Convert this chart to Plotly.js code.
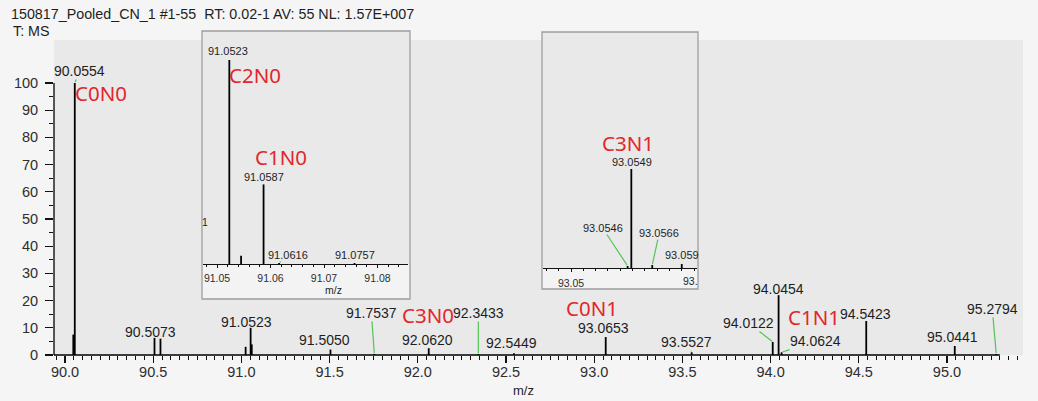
<!DOCTYPE html>
<html>
<head>
<meta charset="utf-8">
<script src="https://cdn.plot.ly/plotly-3.0.1.min.js"></script>
<style>
  html, body { margin: 0; padding: 0; background: #f5f5f5; }
  #chart { width: 1038px; height: 401px; }
</style>
</head>
<body>
<div id="chart"></div>
<script>
// ---------- spectrum data (relative abundance, %) ----------
// full scan, m/z 90 - 95.3
const scanMz        = [90.0470, 90.0554, 90.5073, 90.5412, 91.0240, 91.0523, 91.0587, 91.5050, 91.7537, 92.0620, 92.3433, 92.5449, 93.0653, 93.5527, 94.0122, 94.0454, 94.0624, 94.5423, 95.0441, 95.2794];
const scanIntensity = [7.5,     100,     6.3,     6.0,     3.0,     10,      3.9,     2.0,     0.4,     2.5,     0.4,     0.6,     6.6,     1.0,     4.8,     22,      1.0,     12.5,    3.3,     0.4];
const scanEnd = 95.30;

// centroid labels printed on the full scan
const scanLabelMz = [90.0554, 90.5073, 91.0523, 91.5050, 91.7537, 92.0620, 92.3433, 92.5449, 93.0653, 93.5527, 94.0122, 94.0454, 94.0624, 94.5423, 95.0441, 95.2794];
// isotopologue tags and the peak each one belongs to
const scanTags   = ['C0N0', 'C3N0', 'C0N1', 'C1N1'];
const scanTagMz  = [90.0554, 92.0620, 93.0653, 94.0454];

// zoom 1: m/z 91.05 - 91.08
const zoomAMz        = [91.0523, 91.0545, 91.0587, 91.0616, 91.0757];
const zoomAIntensity = [100,     4,       39,      0.5,     0.5];
const zoomALabelMz   = [91.0523, 91.0587, 91.0616, 91.0757];
const zoomATags      = ['C2N0', 'C1N0'];
const zoomATagMz     = [91.0523, 91.0587];

// zoom 2: m/z 93.05 - 93.06
const zoomBMz        = [93.0546, 93.0549, 93.0566, 93.0590];
const zoomBIntensity = [2,       100,     3,       4];
const zoomBLabelMz   = [93.0549, 93.0546, 93.0566, 93.0590];
const zoomBLabelText = ['93.0549', '93.0546', '93.0566', '93.059'];
const zoomBTags      = ['C3N1'];
const zoomBTagMz     = [93.0549];

const yTicks = [0, 10, 20, 30, 40, 50, 60, 70, 80, 90, 100];
const yMinorTicks = [5, 15, 25, 35, 45, 55, 65, 75, 85, 95];

// ---------- styling ----------
const W = 1038, H = 401;
const M = { l: 54, r: 15, t: 40, b: 46 };
const PW = W - M.l - M.r, PH = H - M.t - M.b;
const px = x => (x - M.l) / PW;            // page x (px) -> paper
const py = y => (M.t + PH - y) / PH;       // page y (px) -> paper

const NUM_FONT = 'Liberation Sans, Arial, sans-serif';
const TAG_FONT = 'Noto Sans, Open Sans, sans-serif';
const RED = '#e3262b';
const GREEN = '#55c455';
const INK = '#1e1e1e';

// label offsets in pixels from the top of each peak: [dx, dy, leader line]
const scanLabelOffsets = [
  [5, -12, true], [-4, -6, false], [-4, -6, false], [-6, -10, false],
  [-3, -41, true], [-1, -8, false], [0, -41, true], [-2, -10, false],
  [-2, -9, false], [-5, -10, true], [-24, -19, true], [0, -6, false],
  [34, -11, true], [-1, -7, false], [-2, -9, false], [-4, -45, true]
];
const scanTagOffsets = [[26, 10], [-1, -33], [-14, -29], [35, 22]];
const zoomALabelOffsets = [[-1, -9, false], [0, -7, false], [9, -8, true], [0, -8, false]];
const zoomATagOffsets = [[26, 15], [17, -27]];
const zoomBLabelOffsets = [[1, -7, false], [-25, -38, true], [7, -32, true], [0, -9, false]];
const zoomBTagOffsets = [[-3, -26]];

// ---------- traces ----------
function sticks(mz, inten) {
  const x = [], y = [];
  mz.forEach((m, i) => { x.push(m, m, null); y.push(0, inten[i], null); });
  return { x, y };
}
function stickTrace(mz, inten, xa, ya, w) {
  const s = sticks(mz, inten);
  return { type: 'scatter', mode: 'lines', x: s.x, y: s.y, xaxis: xa, yaxis: ya,
           line: { color: '#000', width: w }, hoverinfo: 'skip', connectgaps: false };
}
const traces = [
  stickTrace(scanMz, scanIntensity, 'x', 'y', 1.8),
  stickTrace(zoomAMz, zoomAIntensity, 'x2', 'y2', 1.8),
  stickTrace(zoomBMz, zoomBIntensity, 'x3', 'y3', 1.8)
];

// ---------- annotations ----------
function lookup(mzArr, intArr, m) { return intArr[mzArr.indexOf(m)]; }
const annotations = [];
function addLabels(labelMz, texts, offsets, mzArr, intArr, xr, yr, size) {
  labelMz.forEach((m, i) => {
    const [dx, dy, leader] = offsets[i];
    const a = { xref: xr, yref: yr, x: m, y: lookup(mzArr, intArr, m), text: texts[i],
                font: { family: NUM_FONT, size: size, color: INK } };
    if (leader) {
      Object.assign(a, { showarrow: true, ax: dx, ay: dy, arrowhead: 0, arrowwidth: 1.2,
                         arrowcolor: GREEN, standoff: 1, borderpad: 0 });
    } else {
      Object.assign(a, { showarrow: false, xanchor: 'center', yanchor: 'middle', xshift: dx, yshift: -dy });
    }
    annotations.push(a);
  });
}
function addTags(tags, tagMz, offsets, mzArr, intArr, xr, yr) {
  tags.forEach((t, i) => {
    annotations.push({ xref: xr, yref: yr, x: tagMz[i], y: lookup(mzArr, intArr, tagMz[i]), text: t,
      showarrow: false, xanchor: 'center', yanchor: 'middle', xshift: offsets[i][0], yshift: -offsets[i][1],
      font: { family: TAG_FONT, size: 20.5, color: RED } });
  });
}
addLabels(scanLabelMz, scanLabelMz.map(v => v.toFixed(4)), scanLabelOffsets, scanMz, scanIntensity, 'x', 'y', 14);
addTags(scanTags, scanTagMz, scanTagOffsets, scanMz, scanIntensity, 'x', 'y');
addLabels(zoomALabelMz, zoomALabelMz.map(v => v.toFixed(4)), zoomALabelOffsets, zoomAMz, zoomAIntensity, 'x2', 'y2', 11);
addTags(zoomATags, zoomATagMz, zoomATagOffsets, zoomAMz, zoomAIntensity, 'x2', 'y2');
addLabels(zoomBLabelMz, zoomBLabelText, zoomBLabelOffsets, zoomBMz, zoomBIntensity, 'x3', 'y3', 11);
addTags(zoomBTags, zoomBTagMz, zoomBTagOffsets, zoomBMz, zoomBIntensity, 'x3', 'y3');

// header, axis titles and clipped inset text
const paperText = (x, y, text, size, anchor) => ({
  xref: 'paper', yref: 'paper', x: px(x), y: py(y), text: text, showarrow: false,
  xanchor: anchor || 'center', yanchor: 'middle', font: { family: NUM_FONT, size: size, color: INK } });
annotations.push(paperText(9, 14, '150817_Pooled_CN_1 #1-55  RT: 0.02-1 AV: 55 NL: 1.57E+007', 14.3, 'left'));
annotations.push(paperText(11, 31, 'T: MS', 14.3, 'left'));
annotations.push(paperText(523, 390, 'm/z', 13));
annotations.push(paperText(333, 290, 'm/z', 10.5));
annotations.push(paperText(205, 222, '1', 10.5));
annotations.push(paperText(681, 281, '93.', 10.5, 'left'));

// ---------- shapes: inset frames, axis lines ----------
function frame(x0, x1, y0, y1, axisY) {
  return [
    { type: 'rect', xref: 'paper', yref: 'paper', layer: 'below', x0: px(x0), x1: px(x1), y0: py(y1), y1: py(y0),
      fillcolor: '#e9e9e9', line: { width: 0 } },
    { type: 'rect', xref: 'paper', yref: 'paper', layer: 'below', x0: px(x0), x1: px(x1), y0: py(y1), y1: py(axisY),
      fillcolor: '#f3f3f3', line: { width: 0 } },
    { type: 'rect', xref: 'paper', yref: 'paper', layer: 'below', x0: px(x0), x1: px(x1), y0: py(y1), y1: py(y0),
      fillcolor: 'rgba(0,0,0,0)', line: { color: '#9d9d9d', width: 1.3 } }
  ];
}
const shapes = [
  ...frame(202, 410, 31, 299, 264),
  ...frame(542, 698, 32, 289, 268),
  { type: 'line', xref: 'x', yref: 'paper', x0: 89.9376, x1: scanEnd, y0: 0, y1: 0, line: { color: '#000', width: 1.5 } },
  { type: 'line', xref: 'paper', yref: 'y', x0: 0, x1: 0, y0: 0, y1: 100, line: { color: '#000', width: 1.3 } }
];

// ---------- layout ----------
const tickFont = { family: NUM_FONT, size: 14.5, color: '#2e2e2e' };
const insetTickFont = { family: NUM_FONT, size: 10.5, color: '#2e2e2e' };
const layout = {
  width: W, height: H, margin: M,
  paper_bgcolor: '#f5f5f5', plot_bgcolor: '#e9e9e9',
  showlegend: false,
  font: { family: NUM_FONT, color: INK },
  xaxis: {
    domain: [0, 1], anchor: 'y', range: [89.9376, 95.431], showline: false, zeroline: false, showgrid: false,
    tick0: 90, dtick: 0.5, tickformat: '.1f', ticks: 'outside', ticklen: 7, tickwidth: 1.3, tickcolor: '#111',
    tickfont: tickFont, ticklabelstandoff: -3,
    minor: { tick0: 90, dtick: 0.05, ticks: 'outside', ticklen: 3.5, tickwidth: 1, tickcolor: '#111', showgrid: false }
  },
  yaxis: {
    domain: [0, 1], anchor: 'x', range: [0, 115.8], showline: false, zeroline: false, showgrid: false,
    tickmode: 'array', tickvals: yTicks, ticks: 'outside', ticklen: 8, tickwidth: 1.3, tickcolor: '#111',
    tickfont: tickFont, ticklabelstandoff: 4,
    minor: { tickmode: 'array', tickvals: yMinorTicks, ticks: 'outside', ticklen: 4, tickwidth: 1, tickcolor: '#111', showgrid: false }
  },
  xaxis2: {
    domain: [px(203), px(408)], anchor: 'y2', range: [91.04738, 91.0857], showline: true, linecolor: '#111', linewidth: 1,
    zeroline: false, showgrid: false, tick0: 91.05, dtick: 0.01, tickformat: '.2f',
    ticks: 'outside', ticklen: 3, tickcolor: '#111', tickfont: insetTickFont, ticklabelstandoff: 1,
    minor: { tick0: 91.05, dtick: 0.002, ticks: 'outside', ticklen: 2, tickcolor: '#111', showgrid: false }
  },
  yaxis2: { domain: [py(264), py(40)], anchor: 'x2', range: [0, 109.8], visible: false },
  xaxis3: {
    domain: [px(543), px(697)], anchor: 'y3', range: [93.04772, 93.06024], showline: true, linecolor: '#111', linewidth: 1,
    zeroline: false, showgrid: false, tickmode: 'array', tickvals: [93.05], ticktext: ['93.05'],
    ticks: 'outside', ticklen: 3, tickcolor: '#111', tickfont: insetTickFont, ticklabelstandoff: 2,
    minor: { tick0: 93.05, dtick: 0.001, ticks: 'outside', ticklen: 2, tickcolor: '#111', showgrid: false }
  },
  yaxis3: { domain: [py(268), py(40)], anchor: 'x3', range: [0, 230.3], visible: false },
  shapes: shapes,
  annotations: annotations
};

Plotly.newPlot('chart', traces, layout, { displayModeBar: false, staticPlot: true });
</script>
</body>
</html>
